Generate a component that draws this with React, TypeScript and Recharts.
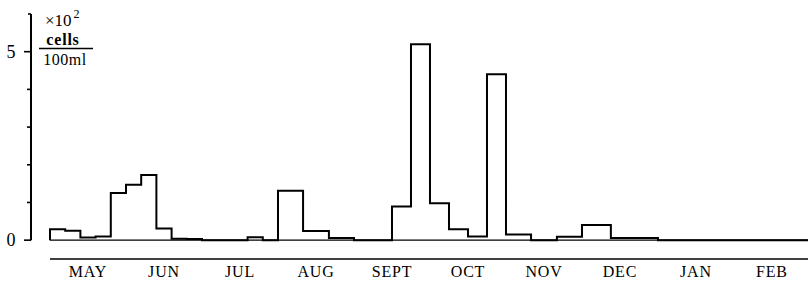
import { LineChart, Line, XAxis, YAxis, ReferenceLine } from "recharts";

// months along the bottom, 0 = start of May
const MONTHS = ["MAY", "JUN", "JUL", "AUG", "SEPT", "OCT", "NOV", "DEC", "JAN", "FEB"];
const MONTH_EDGES = [0, 1, 2, 3, 4, 5, 6, 7, 8, 9, 10];
const MONTH_CENTERS = [0.5, 1.5, 2.5, 3.5, 4.5, 5.5, 6.5, 7.5, 8.5, 9.5];

// sampling bins (in months) and cell counts (x10^2 cells / 100ml)
const BIN_EDGES = [
  0, 0.2, 0.4, 0.6, 0.8, 1.0, 1.2, 1.4, 1.6, 1.8, 2.0, 2.6, 2.8, 3.0, 3.33, 3.67, 4.0,
  4.5, 4.75, 5.0, 5.25, 5.5, 5.75, 6.0, 6.33, 6.67, 7.0, 7.38, 8.0, 10,
];
const CELLS = [
  0.29, 0.25, 0.07, 0.1, 1.25, 1.47, 1.73, 0.31, 0.04, 0.03, 0, 0.08, 0, 1.31, 0.24, 0.06, 0,
  0.89, 5.2, 0.98, 0.29, 0.1, 4.4, 0.15, 0, 0.09, 0.4, 0.06, 0,
];

const Y_TICKS = [0, 1, 2, 3, 4, 5, 6];

const X_DOMAIN: [number, number] = [-0.25, 9.974];
const Y_DOMAIN: [number, number] = [-0.5, 6];

const FONT = "'Liberation Serif', 'Times New Roman', serif";

const stepData = [
  { m: BIN_EDGES[0], v: 0 },
  ...CELLS.map((v, i) => ({ m: BIN_EDGES[i], v })),
  { m: BIN_EDGES[BIN_EDGES.length - 1], v: 0 },
];

function YTick(props: any) {
  const { x, y, payload } = props;
  const v = payload.value;
  const major = v === 0 || v === 5;
  const len = major ? 7 : v === 6 ? 3 : 4;
  return (
    <g>
      <line x1={x - len} x2={x} y1={y} y2={y} stroke="#000" strokeWidth={1.6} />
      {major && (
        <text
          x={x - 20}
          y={y}
          textAnchor="middle"
          dominantBaseline="central"
          fontFamily={FONT}
          fontSize={18}
          fill="#000"
        >
          {v}
        </text>
      )}
    </g>
  );
}

export default function App() {
  return (
    <div style={{ position: "absolute", left: 0, top: 0, background: "#fff" }}>
      <LineChart
        width={808}
        height={288}
        data={stepData}
        margin={{ top: 14, right: 0, left: 0, bottom: 0 }}
      >
        <XAxis
          xAxisId="edges"
          dataKey="m"
          type="number"
          domain={X_DOMAIN}
          allowDataOverflow
          ticks={MONTH_EDGES}
          interval={0}
          axisLine={false}
          tick={false}
          tickLine={{ stroke: "#000", strokeWidth: 1.4 }}
          tickSize={3}
          height={4}
        />
        <XAxis
          xAxisId="labels"
          dataKey="m"
          type="number"
          domain={X_DOMAIN}
          allowDataOverflow
          ticks={MONTH_CENTERS}
          interval={0}
          axisLine={false}
          tickLine={false}
          tickSize={0}
          tickMargin={3}
          height={25}
          tickFormatter={(v: number) => MONTHS[Math.floor(v)]}
          tick={{ fontFamily: FONT, fontSize: 16, fill: "#000", letterSpacing: 0.8 }}
        />
        <YAxis
          type="number"
          domain={Y_DOMAIN}
          allowDataOverflow
          ticks={Y_TICKS}
          interval={0}
          width={31}
          axisLine={false}
          tickLine={false}
          tickSize={0}
          tickMargin={0}
          tick={<YTick />}
        />
        {/* y axis, 0 to 6 */}
        <ReferenceLine
          xAxisId="edges"
          segment={[{ x: X_DOMAIN[0], y: 0 }, { x: X_DOMAIN[0], y: 6 }]}
          stroke="#000"
          strokeWidth={2}
          ifOverflow="visible"
        />
        {/* month axis below the histogram */}
        <ReferenceLine
          xAxisId="edges"
          segment={[{ x: 0, y: Y_DOMAIN[0] }, { x: X_DOMAIN[1], y: Y_DOMAIN[0] }]}
          stroke="#000"
          strokeWidth={1.6}
          ifOverflow="visible"
        />
        {/* zero baseline under the bars */}
        <ReferenceLine
          xAxisId="edges"
          segment={[{ x: 0, y: 0 }, { x: X_DOMAIN[1], y: 0 }]}
          stroke="#000"
          strokeWidth={1.4}
          ifOverflow="visible"
        />
        <Line
          xAxisId="edges"
          type="stepAfter"
          dataKey="v"
          stroke="#000"
          strokeWidth={2}
          dot={false}
          activeDot={false}
          isAnimationActive={false}
        />
        <g fontFamily={FONT} fill="#000">
          <text x={45} y={26} fontSize={17}>
            ×10<tspan dx={2} dy={-8} fontSize={12}>2</tspan>
          </text>
          <text x={63} y={45} fontSize={16} fontWeight="bold" textAnchor="middle" letterSpacing={0.8}>
            cells
          </text>
          <line x1={39} x2={93} y1={48.5} y2={48.5} stroke="#000" strokeWidth={1.3} />
          <text x={65} y={65} fontSize={16} textAnchor="middle" letterSpacing={0.5}>
            100ml
          </text>
        </g>
      </LineChart>
    </div>
  );
}
